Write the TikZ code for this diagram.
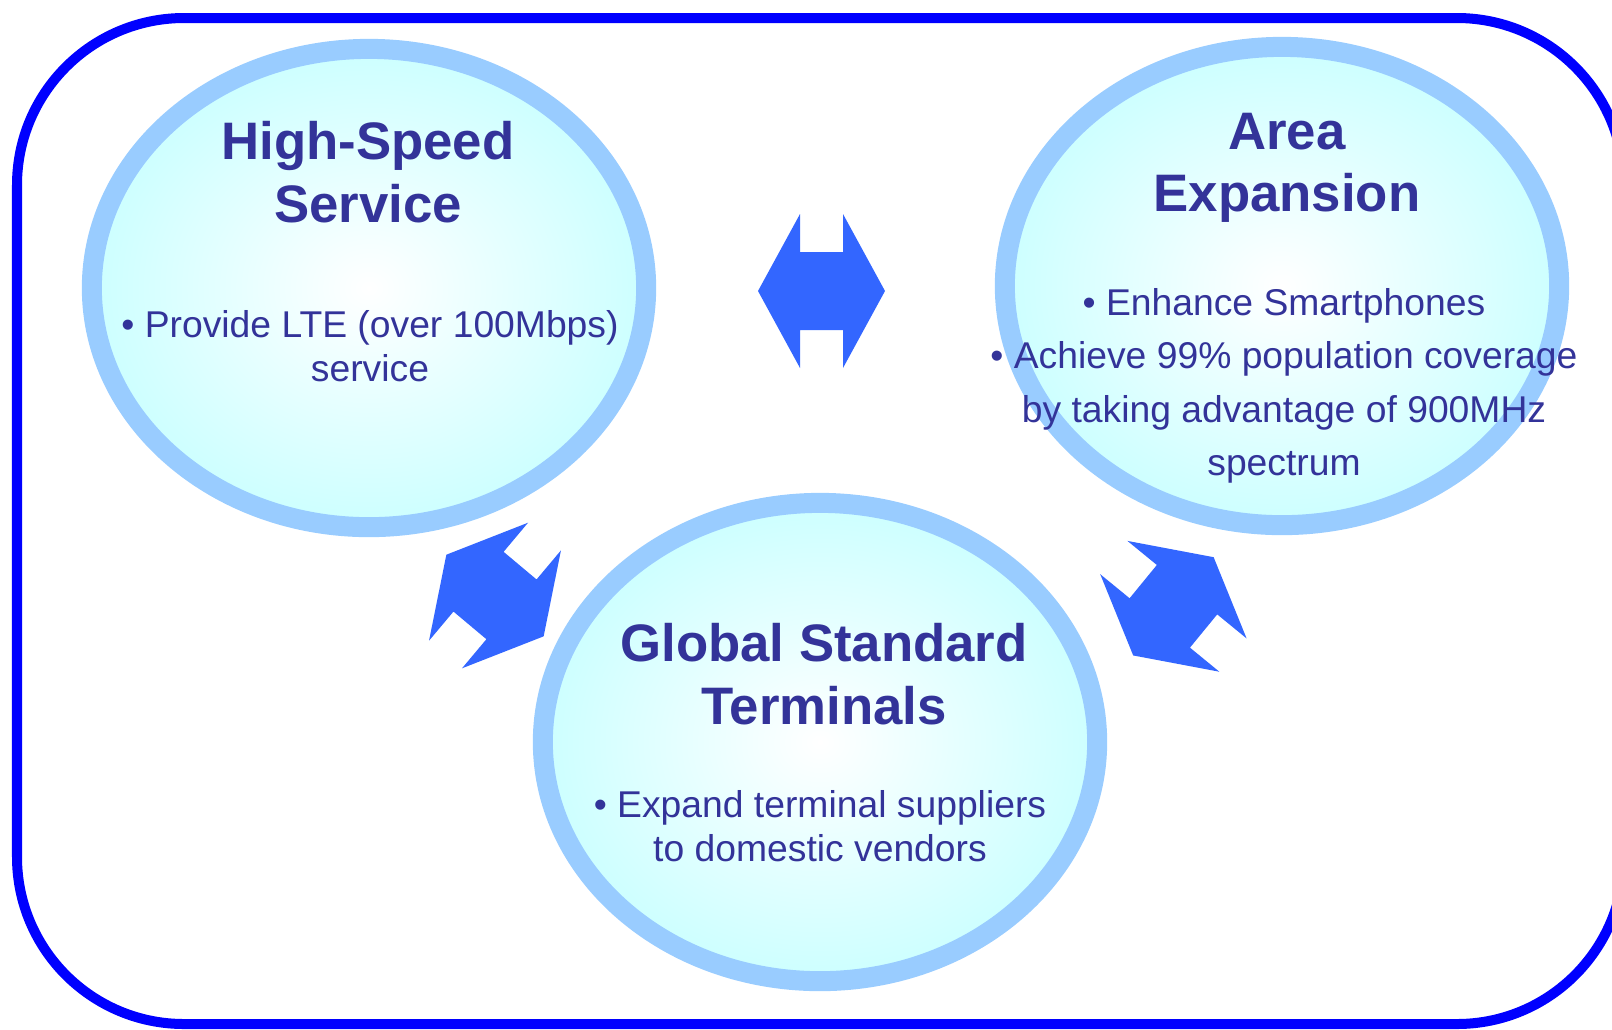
\documentclass[tikz,border=0pt]{standalone}
\usepackage{fontspec}
\setmainfont{Liberation Sans}
\usepackage{tikz}

\definecolor{ringblue}{HTML}{99CCFF}
\definecolor{lightcyan}{HTML}{CCFFFF}
\definecolor{arrowblue}{HTML}{3366FF}
\definecolor{textblue}{HTML}{333399}

% block arrow with two heads, centre (#1,#2), turned by #3
\newcommand{\blockarrow}[3]{%
  \fill[arrowblue,shift={(#1,#2)},rotate=#3] (-63.5,0) -- (-21.5,-77) -- (-21.5,-39) -- (21.5,-39)
    -- (21.5,-77) -- (63.5,0) -- (21.5,77) -- (21.5,39) -- (-21.5,39) -- (-21.5,77) -- cycle ;}

\begin{document}
\begin{tikzpicture}[x=0.01cm,y=-0.01cm,
  ring/.style={draw=ringblue,line width=0.2cm,inner color=white,outer color=lightcyan},
  title/.style={text=textblue,font=\fontsize{15}{17.8}\selectfont\bfseries,align=center,inner sep=0pt},
  bullets/.style={text=textblue,font=\fontsize{10.6}{12.6}\selectfont,align=center,inner sep=0pt}]
\useasboundingbox (0,0) rectangle (1612,1029);
\clip (0,0) rectangle (1612,1029);

\draw[blue,line width=0.1cm,rounded corners=1.67cm] (17,18) rectangle (1624,1024) ;

\draw[ring] (369,288) ellipse (2.77cm and 2.39cm) ;
\draw[ring] (1282,286) ellipse (2.77cm and 2.39cm) ;
\draw[ring] (820,742) ellipse (2.77cm and 2.39cm) ;

\blockarrow{821.5}{291}{0}
\blockarrow{495}{595.5}{-40}
\blockarrow{1173.4}{606.3}{50.7}

\node[title] (hs title) at (368,172) {High-Speed\\Service};
\node[bullets] (hs text) at (370,346) {• Provide LTE (over 100Mbps)\\service};

\node[title] (area title) at (1287,168) {Area\\Expansion};
\node[bullets,font=\fontsize{10.6}{15.2}\selectfont] (area text) at (1284,386)
  {• Enhance Smartphones\\• Achieve 99\% population coverage\\by taking advantage of 900MHz\\spectrum};

\node[title] (global title) at (824,674) {Global Standard\\Terminals};
\node[bullets] (global text) at (820,826) {• Expand terminal suppliers\\to domestic vendors};

\end{tikzpicture}
\end{document}
